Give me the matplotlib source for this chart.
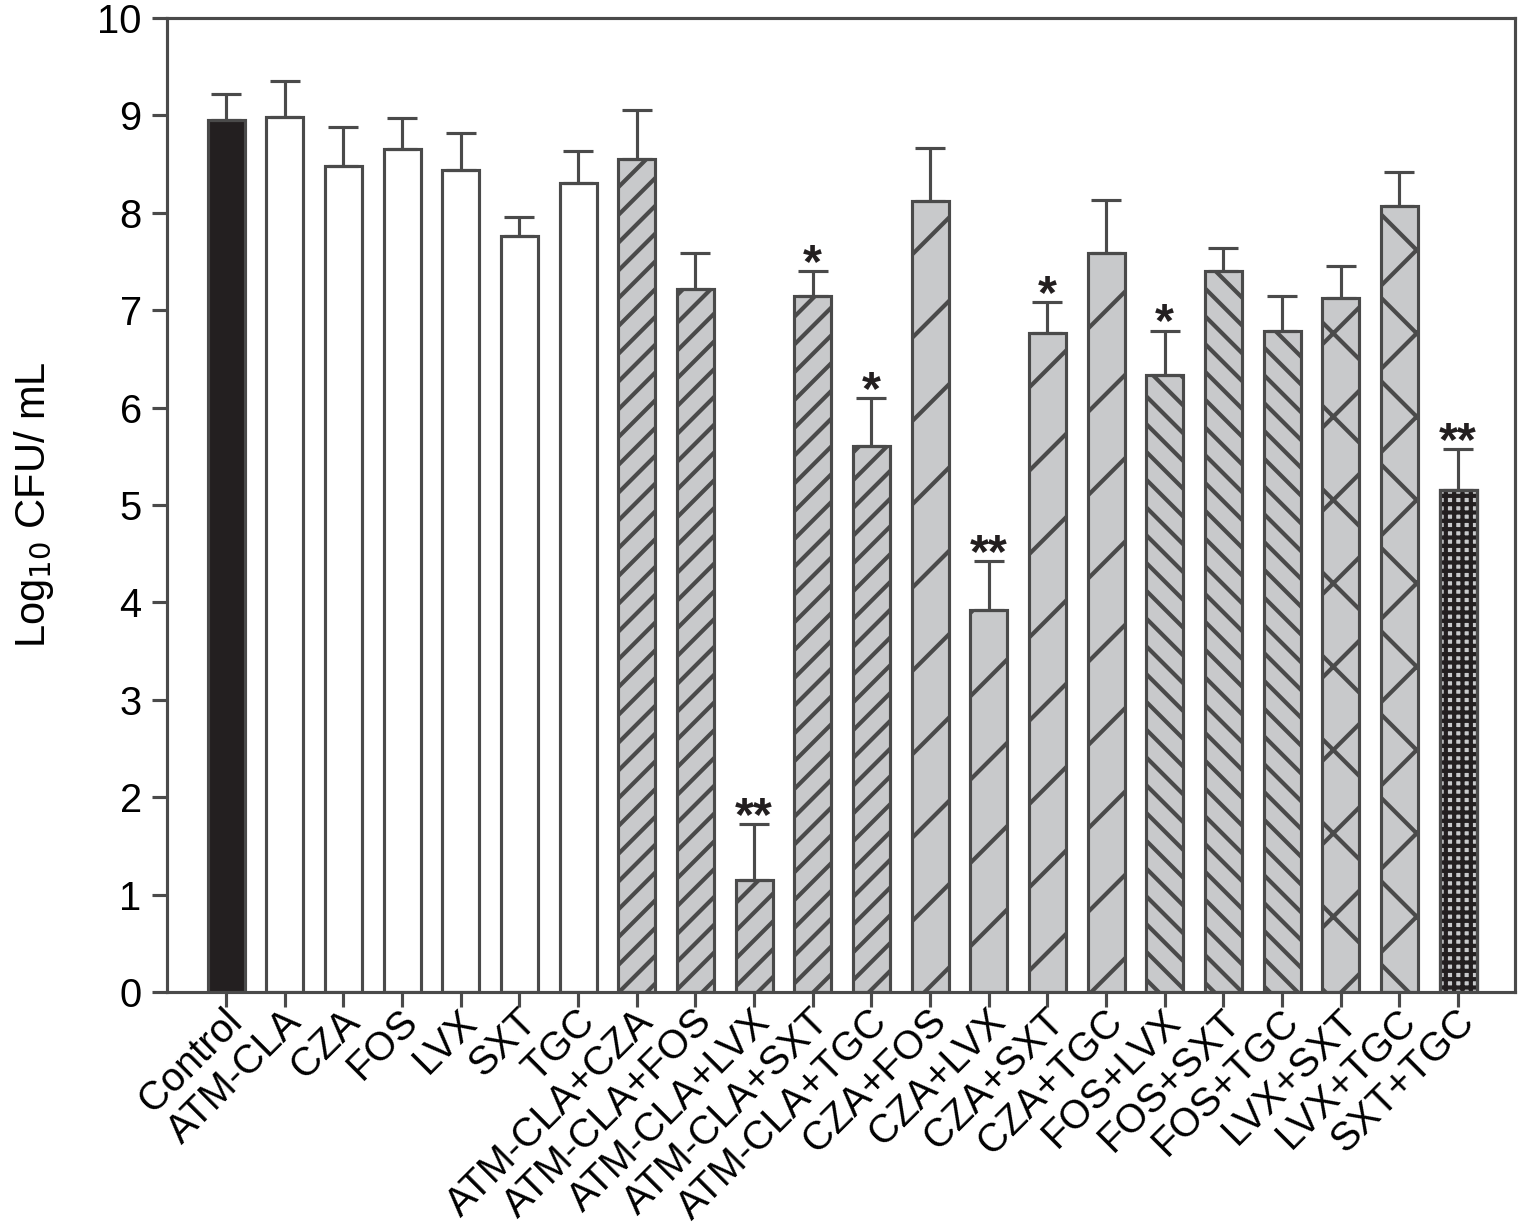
import numpy as np
import matplotlib.pyplot as plt
from matplotlib.transforms import ScaledTranslation

plt.rcParams['font.family'] = ['Liberation Sans', 'DejaVu Sans']
plt.rcParams['hatch.linewidth'] = 1.2

# Treatments and log10 CFU/mL values
labels = ['Control', 'ATM-CLA', 'CZA', 'FOS', 'LVX', 'SXT', 'TGC',
          'ATM-CLA+CZA', 'ATM-CLA+FOS', 'ATM-CLA+LVX', 'ATM-CLA+SXT', 'ATM-CLA+TGC',
          'CZA+FOS', 'CZA+LVX', 'CZA+SXT', 'CZA+TGC',
          'FOS+LVX', 'FOS+SXT', 'FOS+TGC',
          'LVX+SXT', 'LVX+TGC', 'SXT+TGC']
means = [8.95, 8.98, 8.48, 8.66, 8.44, 7.76, 8.31,
         8.55, 7.22, 1.15, 7.15, 5.61,
         8.12, 3.92, 6.77, 7.59,
         6.33, 7.40, 6.79,
         7.13, 8.07, 5.15]
err_top = [9.22, 9.35, 8.88, 8.97, 8.82, 7.96, 8.63,
           9.06, 7.59, 1.72, 7.40, 6.10,
           8.67, 4.42, 7.08, 8.13,
           6.79, 7.64, 7.15,
           7.45, 8.42, 5.57]
stars = ['', '', '', '', '', '', '',
         '', '', '**', '*', '*',
         '', '**', '*', '',
         '*', '', '',
         '', '', '**']

edge = '#4a4a4a'
grey = '#c8c9cb'

# style per bar: (facecolor, hatch, edgecolor)
styles = ([('#231f20', None, edge)] + [('white', None, edge)] * 6 +
          [(grey, '///', edge)] * 5 + [(grey, '/', edge)] * 4 +
          [(grey, '\\\\\\', edge)] * 3 + [(grey, 'x', edge)] * 2 +
          [(grey, '+++++', '#231f20')])

fig = plt.figure(figsize=(6.1, 4.916), dpi=250)
ax = fig.add_axes([167 / 1525, 237 / 1229, 1348 / 1525, 974 / 1229])

x = np.arange(len(labels))
for i in range(len(labels)):
    fc, h, ec = styles[i]
    b = ax.bar(x[i], means[i], width=0.63, color=fc, edgecolor=ec,
               linewidth=0.9, hatch=h, zorder=2)
    if ec != edge:
        # outline stays dark grey, hatch drawn darker
        ax.bar(x[i], means[i], width=0.63, fill=False, edgecolor=edge,
               linewidth=0.9, zorder=2.5)

upper = np.array(err_top) - np.array(means)
ax.errorbar(x, means, yerr=[np.zeros(len(x)), upper], fmt='none',
            ecolor=edge, elinewidth=0.9, capsize=4.3, capthick=0.9, zorder=3)

for i, s in enumerate(stars):
    if s:
        ax.text(x[i], err_top[i] - 0.06, s, ha='center', va='baseline',
                fontsize=14, fontweight='bold', color='#231f20')

ax.set_xlim(-1.006, 21.97)
ax.set_ylim(0, 10)
ax.set_yticks(range(0, 11))
ax.set_xticks(x)
ax.set_xticklabels(labels, rotation=45, ha='right', va='center',
                   rotation_mode='anchor', fontsize=11.5)
ax.tick_params(axis='y', labelsize=11.5, direction='out', length=4.3,
               width=0.9, color=edge, pad=3)
ax.tick_params(axis='x', direction='out', length=4.3, width=0.9,
               color=edge, pad=2.5)
shift = ScaledTranslation(3 / 72, 0, fig.dpi_scale_trans)
for t in ax.get_xticklabels():
    t.set_transform(t.get_transform() + shift)
for sp in ax.spines.values():
    sp.set_color(edge)
    sp.set_linewidth(0.9)

ax.set_ylabel('Log$_{10}$ CFU/ mL', fontsize=12, labelpad=12)

fig.savefig('out.png', dpi=250)
